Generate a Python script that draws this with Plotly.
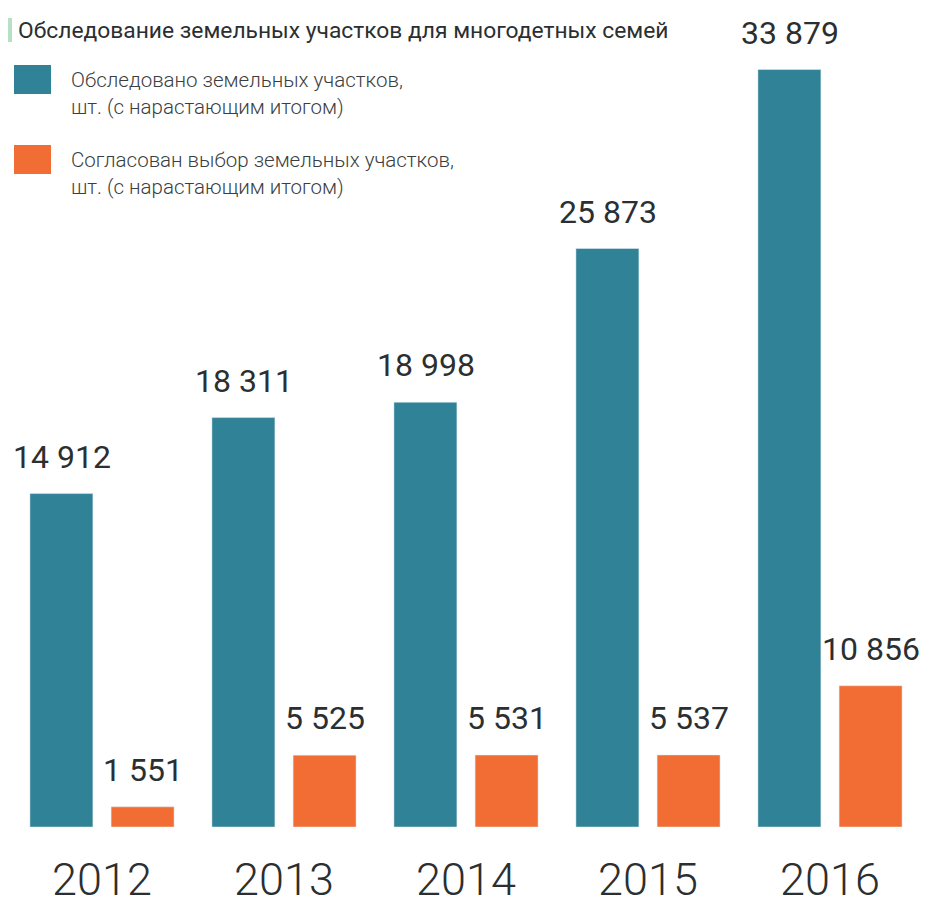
import plotly.graph_objects as go

years = ["2012", "2013", "2014", "2015", "2016"]
surveyed = [14912, 18311, 18998, 25873, 33879]
agreed = [1551, 5525, 5531, 5537, 10856]
surveyed_lbl = ["14 912", "18 311", "18 998", "25 873", "33 879"]
agreed_lbl = ["1 551", "5 525", "5 531", "5 537", "10 856"]

title = "Обследование земельных участков для многодетных семей"
leg_surveyed = "Обследовано земельных участков,<br>шт. (с нарастающим итогом)"
leg_agreed = "Согласован выбор земельных участков,<br>шт. (с нарастающим итогом)"

TEAL = "#308297"
ORANGE = "#f16d34"
DARK = "#2b2f31"
FONT = "Roboto, DejaVu Sans Condensed, sans-serif"

W, H = 930, 907
OFF = 8  # page body margin
# plot area in screen pixels: x 11..921, y 40..827
L, R, T, B = 11 - OFF, W - (921 - OFF), 40 - OFF, H - (827 - OFF)
pw, ph = W - L - R, H - T - B


# screen pixel -> paper helpers for decorations
def px(x):
    return (x - OFF - L) / pw


def py(y):
    return (H - B - (y - OFF)) / ph


fig = go.Figure()
fig.add_trace(go.Bar(x=years, y=surveyed, marker_color=TEAL, width=0.346, offset=-0.396,
                     showlegend=False, hoverinfo="x+y"))
fig.add_trace(go.Bar(x=years, y=agreed, marker_color=ORANGE, width=0.346, offset=0.05,
                     showlegend=False, hoverinfo="x+y", yaxis="y2"))

# value labels above the bars (x given as category index)
for yref, vals, lbls, shift in [("y", surveyed, surveyed_lbl, -40.5), ("y2", agreed, agreed_lbl, 40.5)]:
    for i, (v, t) in enumerate(zip(vals, lbls)):
        fig.add_annotation(x=i, y=v, xref="x", yref=yref, text=t, showarrow=False,
                           xshift=shift, yshift=16, yanchor="bottom", xanchor="center",
                           font=dict(family=FONT, size=32, color=DARK, weight=400))

# title + green marker
fig.add_shape(type="rect", xref="paper", yref="paper", x0=px(8), x1=px(12),
              y0=py(42), y1=py(18), fillcolor="#b8e0c4", line_width=0)
fig.add_annotation(text=title, xref="paper", yref="paper", x=px(16), y=py(30),
                   xanchor="left", yanchor="middle", showarrow=False,
                   font=dict(family=FONT, size=22.8, color=DARK, weight=400))

# legend
for top, col, txt in [(65, TEAL, leg_surveyed), (145, ORANGE, leg_agreed)]:
    fig.add_shape(type="rect", xref="paper", yref="paper", x0=px(14), x1=px(51),
                  y0=py(top + 29), y1=py(top), fillcolor=col, line_width=0)
    fig.add_annotation(text=txt, xref="paper", yref="paper", x=px(69), y=py(top + 29),
                       xanchor="left", yanchor="middle", showarrow=False, align="left",
                       font=dict(family=FONT, size=20.5, color="#3a3e40", weight=300))

fig.update_layout(
    width=W, height=H,
    margin=dict(l=L, r=R, t=T, b=B),
    paper_bgcolor="white", plot_bgcolor="white",
    xaxis=dict(type="category", range=[-0.5, 4.5], showgrid=False, showline=False, ticks="",
               automargin=False, ticklabelstandoff=22,
               tickfont=dict(family=FONT, size=45, color=DARK, weight=300)),
    yaxis=dict(range=[0, 35200], visible=False, automargin=False),
    yaxis2=dict(range=[0, 60500], visible=False, overlaying="y", automargin=False),
)

fig.write_html("out.html")
